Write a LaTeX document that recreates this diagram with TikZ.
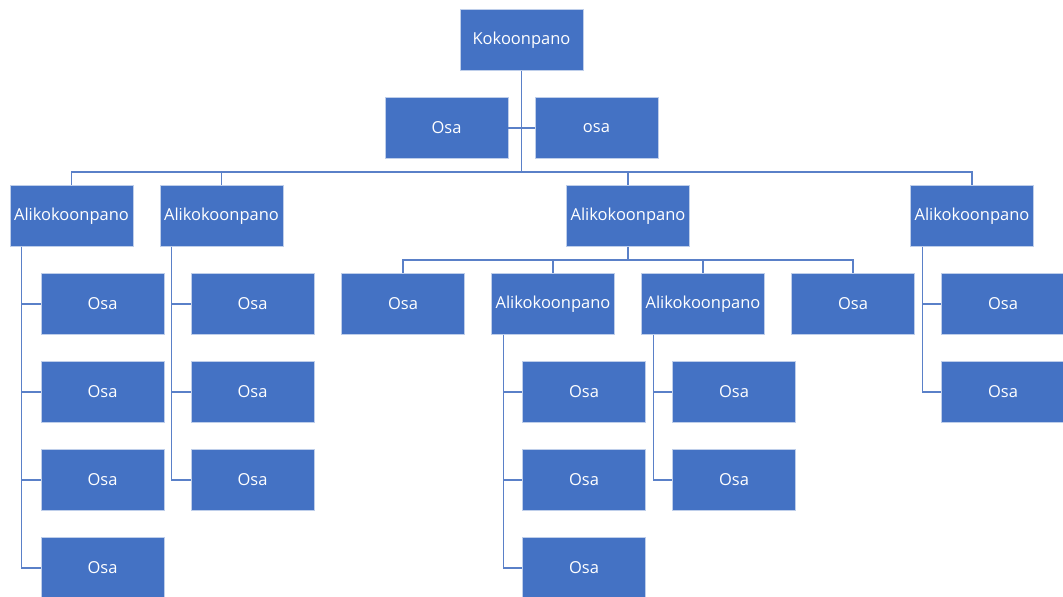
\documentclass[tikz,border=0pt]{standalone}
\usepackage{fontspec}
\setmainfont{Open Sans}
\usetikzlibrary{positioning}
\definecolor{boxblue}{HTML}{4472C4}
\definecolor{lineblue}{HTML}{5A80C8}
\tikzset{
  box/.style={rectangle, fill=boxblue, draw=white!65!boxblue, line width=0.8pt,
    minimum width=123pt, minimum height=61pt, inner sep=0pt,
    text=white, font=\fontsize{16.5}{18}\selectfont},
  link/.style={draw=lineblue, line width=1.1pt}
}
\begin{document}
\begin{tikzpicture}[x=1pt, y=-1pt]

\useasboundingbox (0,0) rectangle (1063,597); %% page size
\clip (0,0) rectangle (1063,597);

%% top level
\node[box] (root) at (521.5,40) {Kokoonpano};
\node[box] (as1) at (446.5,128) {Osa};
\node[box] (as2) at (596.5,128) {osa};
\coordinate (bus) at (521.5,172);

\node[box] (a1) at (71.5,216) {Alikokoonpano};
\node[box] (a2) at (221.5,216) {Alikokoonpano};
\node[box] (a3) at (628,216) {Alikokoonpano};
\node[box] (a4) at (972,216) {Alikokoonpano};

\draw[link] (as1.east) -- (as2.west);
\draw[link] (root.south) -- (bus);
\foreach \n in {a1,a2,a3,a4}
  \draw[link] (bus) -| (\n.north);

%% left branches
\foreach \i/\y in {1/304,2/392,3/480,4/568} {
  \node[box] (a1c\i) at (102.5,\y) {Osa};
  \draw[link] ([xshift=12pt]a1.south west) |- (a1c\i.west);
}
\foreach \i/\y in {1/304,2/392,3/480} {
  \node[box] (a2c\i) at (252.5,\y) {Osa};
  \draw[link] ([xshift=12pt]a2.south west) |- (a2c\i.west);
}

%% middle branch
\coordinate (sbus) at (628,260);
\node[box] (s1) at (403,304) {Osa};
\node[box] (s2) at (553,304) {Alikokoonpano};
\node[box] (s3) at (703,304) {Alikokoonpano};
\node[box] (s4) at (853,304) {Osa};
\draw[link] (a3.south) -- (sbus);
\foreach \n in {s1,s2,s3,s4}
  \draw[link] (sbus) -| (\n.north);

\foreach \i/\y in {1/392,2/480,3/568} {
  \node[box] (s2c\i) at (584,\y) {Osa};
  \draw[link] ([xshift=12pt]s2.south west) |- (s2c\i.west);
}
\foreach \i/\y in {1/392,2/480} {
  \node[box] (s3c\i) at (734,\y) {Osa};
  \draw[link] ([xshift=12pt]s3.south west) |- (s3c\i.west);
}

%% right branch
\foreach \i/\y in {1/304,2/392} {
  \node[box] (a4c\i) at (1003,\y) {Osa};
  \draw[link] ([xshift=12pt]a4.south west) |- (a4c\i.west);
}

\end{tikzpicture}
\end{document}
